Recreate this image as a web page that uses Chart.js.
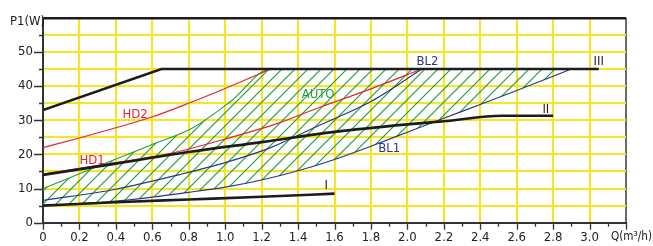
<!DOCTYPE html>
<html>
<head>
<meta charset="utf-8">
<script src="https://cdn.jsdelivr.net/npm/chart.js@4/dist/chart.umd.min.js"></script>
<style>
  html, body { margin: 0; padding: 0; background: #fff; }
  #wrap { width: 653px; height: 246px; position: relative; }
</style>
</head>
<body>
<div id="wrap"><canvas id="chart"></canvas></div>
<script>
/* pump curves: flow Q (m3/h) vs power input P1 (W) */

// constant speed curves
const Q_III = [0, 0.65, 3.05];
const P_III = [33, 45, 45];
const Q_II = [0, 0.4, 0.8, 1.2, 1.6, 2.0, 2.2, 2.52, 2.8];
const P_II = [14, 17.3, 20.7, 23.6, 26.6, 28.8, 29.7, 31.3, 31.3];
const Q_I = [0, 0.4, 0.8, 1.2, 1.6];
const P_I = [5, 6.0, 6.8, 7.6, 8.5];

// proportional / constant pressure curves
const Q_HD1 = [0, 0.4, 0.7, 1.0, 1.3, 1.52, 1.8, 2.08];
const P_HD1 = [14.2, 17.6, 20.3, 24.5, 29.3, 33.8, 39.2, 45];
const Q_HD2 = [0, 0.2, 0.4, 0.59, 0.81, 1.0, 1.25];
const P_HD2 = [22, 24.8, 27.8, 30.8, 35.2, 39.3, 45];
const Q_BL2 = [0, 0.4, 0.75, 1.0, 1.25, 1.52, 1.8, 2.08];
const P_BL2 = [6.5, 9.8, 14.1, 17.6, 22, 28.6, 35.5, 45];
const Q_BL1 = [0, 0.4, 0.8, 1.0, 1.2, 1.4, 1.6, 1.8, 2.0, 2.2, 2.4, 2.6, 2.9];
const P_BL1 = [5, 6.3, 8.9, 10.4, 12.5, 15.2, 18.5, 22.4, 26.5, 30.6, 34.6, 38.7, 45];

// upper edge of the AUTO area (lower edge is BL1)
const Q_AUTO = [0, 0.3, 0.59, 0.82, 1.03, 1.25, 2.9];
const P_AUTO = [10, 16.5, 22.7, 27.7, 35.5, 45, 45];

// axis tick labels
const X_LABELS = ['0','0.2','0.4','0.6','0.8','1.0','1.2','1.4','1.6','1.8','2.0','2.2','2.4','2.6','2.8','3.0',''];
const Y_LABELS = ['0','','10','','20','','30','','40','','50','',''];

// curve names, anchored in data units
const NAMES = ['HD2','HD1','AUTO','BL2','BL1','III','II','I'];
const NAME_Q = [0.505, 0.27, 1.51, 2.11, 1.9, 3.05, 2.76, 1.555];
const NAME_P = [31.7, 18.2, 37.4, 47.3, 21.6, 47.2, 33.1, 10.8];

const BLACK = '#1c1c1c';
const RED = '#e8232f';
const BLUE = '#29358f';
const GREEN = '#1f9f3e';
const YELLOW = '#f9e51e';
const NAME_COLORS = [RED, RED, GREEN, BLUE, BLUE, BLACK, BLACK, BLACK];
const FONT = "'DejaVu Sans Condensed', 'DejaVu Sans', sans-serif";

function pts(qs, ps){
  return qs.map((q,i) => ({x:q, y:ps[i]}));
}

function hatch(){
  const s = 13;
  const c = document.createElement('canvas');
  c.width = s; c.height = s;
  const g = c.getContext('2d');
  g.strokeStyle = GREEN;
  g.lineWidth = 1.2;
  g.beginPath();
  [-s, 0, s].forEach(o => { g.moveTo(o - 1, s + 1); g.lineTo(o + s + 1, -1); });
  g.stroke();
  return g.createPattern(c, 'repeat');
}

function curve(label, qs, ps, color, width, order, extra){
  return Object.assign({
    label,
    data: pts(qs, ps),
    borderColor: color,
    borderWidth: width,
    pointRadius: 0,
    fill: false,
    cubicInterpolationMode: 'monotone',
    order
  }, extra || {});
}

const axisMarks = {
  id: 'axisMarks',
  afterDraw(chart){
    const {ctx, chartArea: a, scales: {x, y}} = chart;
    ctx.save();
    ctx.strokeStyle = '#333';
    ctx.lineWidth = 1.3;
    ctx.beginPath();
    const xt = x.ticks.map(t => t.value);
    xt.forEach((v, i) => {
      const px = Math.round(x.getPixelForValue(v)) + 0.5;
      ctx.moveTo(px, a.bottom); ctx.lineTo(px, a.bottom + 7);
      if(i < xt.length - 1){
        const m = Math.round(x.getPixelForValue((v + xt[i+1]) / 2)) + 0.5;
        ctx.moveTo(m, a.bottom); ctx.lineTo(m, a.bottom + 4);
      }
    });
    y.ticks.forEach((t, i) => {
      if(t.value >= 60) return;
      const py = Math.round(y.getPixelForValue(t.value)) + 0.5;
      const len = Y_LABELS[i] ? 9 : 4;
      ctx.moveTo(a.left, py); ctx.lineTo(a.left - len, py);
    });
    ctx.stroke();

    ctx.font = '13px ' + FONT;
    ctx.textBaseline = 'middle';
    ctx.textAlign = 'center';
    NAMES.forEach((n, i) => {
      ctx.fillStyle = NAME_COLORS[i];
      ctx.fillText(n, x.getPixelForValue(NAME_Q[i]), y.getPixelForValue(NAME_P[i]));
    });

    ctx.fillStyle = '#222';
    ctx.textAlign = 'left';
    ctx.fillText('P1(W)', 10, 22, 35);
    ctx.fillText('Q(m³/h)', a.right - 15, 237, 41);
    ctx.restore();
  }
};

const ctx = document.getElementById('chart').getContext('2d');
Chart.defaults.font.family = FONT;
Chart.defaults.font.size = 13;
Chart.defaults.color = '#222';

const datasets = [
  curve('III', Q_III, P_III, BLACK, 2.6, 0, {cubicInterpolationMode: 'default', tension: 0}),
  curve('II', Q_II, P_II, BLACK, 2.6, 0),
  curve('I', Q_I, P_I, BLACK, 2.6, 0),
  curve('HD1', Q_HD1, P_HD1, RED, 1.2, 1),
  curve('HD2', Q_HD2, P_HD2, RED, 1.2, 1),
  curve('BL2', Q_BL2, P_BL2, BLUE, 1.2, 2),
  curve('BL1', Q_BL1, P_BL1, BLUE, 1.2, 2),
  curve('AUTO', Q_AUTO, P_AUTO, GREEN, 1.1, 3, {fill: 6, backgroundColor: hatch()})
];

new Chart(ctx, {
  type: 'line',
  data: { datasets },
  options: {
    responsive: true,
    maintainAspectRatio: false,
    animation: false,
    layout: { padding: { top: 12.7, right: 27, left: 0, bottom: 0 } },
    plugins: { legend: { display: false }, tooltip: { enabled: false } },
    scales: {
      x: {
        type: 'linear',
        min: 0, max: 3.2,
        afterFit: s => { s.height = 23.3; },
        border: { color: '#333', width: 2 },
        grid: {
          drawTicks: false,
          color: c => c.tick.value === 0 ? '#333' : (c.tick.value > 3.19 ? '#6a6a6a' : YELLOW),
          lineWidth: 2
        },
        ticks: {
          stepSize: 0.2,
          padding: 7,
          maxRotation: 0,
          autoSkip: false,
          callback: (v, i) => X_LABELS[i]
        }
      },
      y: {
        min: 0, max: 60,
        afterFit: s => { s.width = 43; },
        border: { color: '#333', width: 2 },
        grid: {
          drawTicks: false,
          color: c => c.tick.value === 60 ? BLACK : (c.tick.value === 0 ? '#333' : YELLOW),
          lineWidth: c => c.tick.value === 60 ? 2.4 : 2
        },
        ticks: {
          stepSize: 5,
          padding: 10,
          autoSkip: false,
          callback: (v, i) => Y_LABELS[i]
        }
      }
    }
  },
  plugins: [axisMarks]
});
</script>
</body>
</html>
